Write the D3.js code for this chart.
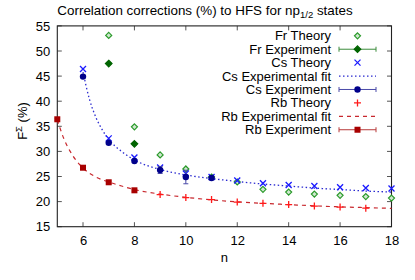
<!DOCTYPE html>
<html><head><meta charset="utf-8">
<script src="https://cdn.jsdelivr.net/npm/d3@7"></script>
<style>
body{margin:0;background:#fff;}
svg{display:block;font-family:"Liberation Sans",Arial,sans-serif;}
</style></head><body>
<svg id="c" width="415" height="280"></svg>
<script>
// ---- data ----
const frTheoryN = [7,8,9,10,11,12,13,14,15,16,17,18];
const frTheory  = [53.1,34.9,29.3,26.5,24.9,23.9,22.45,21.9,21.5,21.25,21.0,20.7];
const frExpN = [7,8];
const frExp  = [47.5,31.5];
const frExpErr = [0.2,0.2];
const csTheoryN = [6,7,8,9,10,11,12,13,14,15,16,17,18];
const csTheory  = [46.4,32.6,28.8,26.8,25.6,24.9,24.2,23.65,23.3,23.1,22.85,22.7,22.6];
const csExpN = [6,7,8,9,10,11];
const csExp  = [44.9,31.7,28.1,26.3,24.9,24.7];
const csExpErr = [0.2,0.2,0.3,0.7,1.35,0.2];
const csFitN = [6,6.25,6.5,6.75,7,7.5,8,9,10,11,12,13,14,15,16,17,18];
const csFit  = [45.8,40.4,36.8,34.3,32.4,30.0,28.3,26.4,25.3,24.6,24.0,23.5,23.1,22.7,22.4,22.1,21.9];
const rbTheoryN = [9,10,11,12,13,14,15,16,17];
const rbTheory  = [21.4,20.8,20.4,19.9,19.65,19.4,19.1,18.9,18.7];
const rbFitN = [5,5.25,5.5,5.75,6,6.5,7,7.5,8,9,10,11,12,13,14,15,16,17,18];
const rbFit  = [36.3,32.6,30.0,28.1,26.7,24.9,23.9,23.1,22.4,21.5,20.85,20.35,19.95,19.65,19.4,19.15,18.95,18.8,18.65];
const rbExpN = [5,6,7,8];
const rbExp  = [36.4,26.75,23.85,22.25];
const rbExpErr = [0.2,0.2,0.2,0.2];
const xTicks = [6,8,10,12,14,16,18];
const yTicks = [15,20,25,30,35,40,45,50,55];

// ---- styles ----
const C = {frT:"#2a9a2a", frE:"#006400", frEL:"#3c8c3c", csT:"#1a1aff", csE:"#00008b", csEL:"#4a4aa8", csF:"#2a2ad0", rbT:"#ff1a1a", rbF:"#c8282e", rbE:"#a80000", rbEL:"#b83a3a"};

const svg = d3.select("#c");
const L=57.3, R=391.5, T=25.9, B=226.7;
const x = d3.scaleLinear().domain([5,18]).range([L,R]);
const y = d3.scaleLinear().domain([15,55]).range([B,T]);

// axes
const fs = 13;
const gx = svg.append("g").attr("transform",`translate(0,${B})`)
  .call(d3.axisBottom(x).tickValues(xTicks).tickSize(0).tickPadding(9));
gx.select(".domain").remove();
gx.selectAll("text").attr("font-size",fs).attr("fill","#000").attr("font-family","Liberation Sans, Arial, sans-serif");
const gy = svg.append("g").attr("transform",`translate(${L},0)`)
  .call(d3.axisLeft(y).tickValues(yTicks).tickSize(0).tickPadding(7));
gy.select(".domain").remove();
gy.selectAll("text").attr("font-size",fs).attr("fill","#000").attr("font-family","Liberation Sans, Arial, sans-serif");

// inward ticks, mirrored
const tk = 4.5;
const tg = svg.append("g").attr("stroke","#555").attr("stroke-width",1);
xTicks.forEach(v=>{
  tg.append("line").attr("x1",x(v)).attr("x2",x(v)).attr("y1",B).attr("y2",B-tk);
  tg.append("line").attr("x1",x(v)).attr("x2",x(v)).attr("y1",T).attr("y2",T+tk);
});
yTicks.forEach(v=>{
  tg.append("line").attr("x1",L).attr("x2",L+tk).attr("y1",y(v)).attr("y2",y(v));
  tg.append("line").attr("x1",R).attr("x2",R-tk).attr("y1",y(v)).attr("y2",y(v));
});
svg.append("rect").attr("x",L).attr("y",T).attr("width",R-L).attr("height",B-T)
  .attr("fill","none").attr("stroke","#222").attr("stroke-width",1.1);

// labels
svg.append("text").attr("x",205).attr("y",15).attr("text-anchor","middle").attr("font-size",13.4)
  .html('Correlation corrections (%) to HFS for np<tspan dy="3" font-size="9.5">1/2</tspan><tspan dy="-3"> states</tspan>');
svg.append("text").attr("x",x(11.5)).attr("y",262).attr("text-anchor","middle").attr("font-size",fs).text("n");
svg.append("text").attr("transform","translate(27,121) rotate(-90)").attr("text-anchor","middle").attr("font-size",fs)
  .html('F<tspan dy="-5" font-size="9.5">Σ</tspan><tspan dy="5"> (%)</tspan>');

// marker drawers
function diamond(g,cx,cy,col,fill,r){g.append("path").attr("d",`M${cx},${cy-r}L${cx+r},${cy}L${cx},${cy+r}L${cx-r},${cy}Z`).attr("fill",fill).attr("stroke",col).attr("stroke-width",1.2);}
function cross(g,cx,cy,col,r){g.append("path").attr("d",`M${cx-r},${cy-r}L${cx+r},${cy+r}M${cx-r},${cy+r}L${cx+r},${cy-r}`).attr("stroke",col).attr("stroke-width",1.3).attr("fill","none");}
function plus(g,cx,cy,col,r){g.append("path").attr("d",`M${cx-r},${cy}L${cx+r},${cy}M${cx},${cy-r}L${cx},${cy+r}`).attr("stroke",col).attr("stroke-width",1.3).attr("fill","none");}
function circ(g,cx,cy,col,r){g.append("circle").attr("cx",cx).attr("cy",cy).attr("r",r).attr("fill",col);}
function sq(g,cx,cy,col,r){g.append("rect").attr("x",cx-r).attr("y",cy-r).attr("width",2*r).attr("height",2*r).attr("fill",col);}
function errbar(g,cx,v,e,col){g.append("path").attr("d",`M${cx},${y(v-e)}L${cx},${y(v+e)}M${cx-2.5},${y(v-e)}L${cx+2.5},${y(v-e)}M${cx-2.5},${y(v+e)}L${cx+2.5},${y(v+e)}`).attr("stroke",col).attr("stroke-width",1).attr("fill","none");}

const plot = svg.append("g");
const line = d3.line().x(d=>x(d[0])).y(d=>y(d[1])).curve(d3.curveMonotoneX);

// fits
plot.append("path").datum(rbFitN.map((n,i)=>[n,rbFit[i]])).attr("d",line).attr("fill","none")
  .attr("stroke",C.rbF).attr("stroke-width",1.2).attr("stroke-dasharray","4,4");
plot.append("path").datum(csFitN.map((n,i)=>[n,csFit[i]])).attr("d",line).attr("fill","none")
  .attr("stroke",C.csF).attr("stroke-width",1.3).attr("stroke-dasharray","1.5,2.5");

// points
frTheoryN.forEach((n,i)=>diamond(plot,x(n),y(frTheory[i]),C.frT,"#cfe8cf",3));
frExpN.forEach((n,i)=>{errbar(plot,x(n),frExp[i],frExpErr[i],C.frE);diamond(plot,x(n),y(frExp[i]),C.frE,C.frE,3.3);});
csTheoryN.forEach((n,i)=>cross(plot,x(n),y(csTheory[i]),C.csT,3));
csExpN.forEach((n,i)=>{errbar(plot,x(n),csExp[i],csExpErr[i],C.csEL);circ(plot,x(n),y(csExp[i]),C.csE,3.2);});
rbTheoryN.forEach((n,i)=>plus(plot,x(n),y(rbTheory[i]),C.rbT,3.5));
rbExpN.forEach((n,i)=>{errbar(plot,x(n),rbExp[i],rbExpErr[i],C.rbE);sq(plot,x(n),y(rbExp[i]),C.rbE,3);});

// legend
const legend = [
  {t:"Fr Theory", k:"dia"},
  {t:"Fr Experiment", k:"diaE"},
  {t:"Cs Theory", k:"x"},
  {t:"Cs Experimental fit", k:"dot"},
  {t:"Cs Experiment", k:"circE"},
  {t:"Rb Theory", k:"plus"},
  {t:"Rb Experimental fit", k:"dash"},
  {t:"Rb Experiment", k:"sqE"}
];
const lg = svg.append("g");
const lx0=339, lx1=376, lm=357.5;
legend.forEach((d,i)=>{
  const cy = 35.8 + i*13.42;
  lg.append("text").attr("x",331).attr("y",cy+4.5).attr("text-anchor","end").attr("font-size",fs).text(d.t);
  const bar=(col)=>lg.append("path").attr("d",`M${lx0},${cy}L${lx1},${cy}M${lx0},${cy-2.5}L${lx0},${cy+2.5}M${lx1},${cy-2.5}L${lx1},${cy+2.5}`).attr("stroke",col).attr("stroke-width",1).attr("fill","none");
  if(d.k==="dia") diamond(lg,lm,cy,C.frT,"#cfe8cf",3);
  if(d.k==="diaE"){bar(C.frEL);diamond(lg,lm,cy,C.frE,C.frE,3.3);}
  if(d.k==="x") cross(lg,lm,cy,C.csT,3);
  if(d.k==="dot") lg.append("line").attr("x1",lx0).attr("x2",lx1).attr("y1",cy).attr("y2",cy).attr("stroke",C.csF).attr("stroke-width",1.3).attr("stroke-dasharray","1.5,2.5");
  if(d.k==="circE"){bar(C.csEL);circ(lg,lm,cy,C.csE,3.2);}
  if(d.k==="plus") plus(lg,lm,cy,C.rbT,3.5);
  if(d.k==="dash") lg.append("line").attr("x1",lx0).attr("x2",lx1).attr("y1",cy).attr("y2",cy).attr("stroke",C.rbF).attr("stroke-width",1.2).attr("stroke-dasharray","4,4");
  if(d.k==="sqE"){bar(C.rbEL);sq(lg,lm,cy,C.rbE,3);}
});
</script>
</body></html>
